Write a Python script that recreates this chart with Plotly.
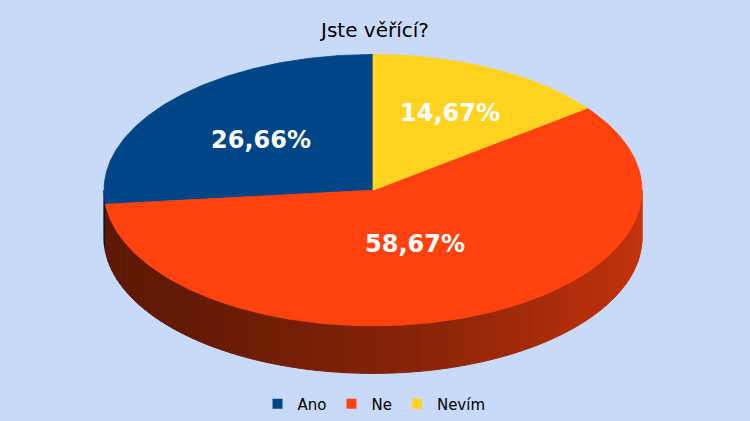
import numpy as np
import plotly.graph_objects as go

# ---- data ----
categories = ["Ano", "Ne", "Nevím"]
values = [26.66, 58.67, 14.67]
labels = ["26,66%", "58,67%", "14,67%"]
colors = ["#004586", "#FF420E", "#FFD320"]
title = "Jste věřící?"

# ---- geometry / style (pixels) ----
W, H = 750, 421
cx, cy = 373, 192
a, b = 269, 137
depth = 48
label_r = [0.56, 0.42, 0.64]
bg = "#C9DAF8"

def hex2rgb(h):
    h = h.lstrip("#")
    return tuple(int(h[i:i + 2], 16) for i in (0, 2, 4))

def shade(t):
    # lighting factor for the side wall, t in degrees (180 left .. 360 right)
    st = [180, 225, 270, 315, 360]
    sv = [0.36, 0.39, 0.50, 0.68, 0.80]
    return float(np.interp(t, st, sv))

def pt(t, dz=0.0):
    r = np.radians(t)
    return cx + a * np.cos(r), cy - b * np.sin(r) + dz

total = sum(values)
starts, ends = [], []
ang = 90.0
for v in values:
    span = v / total * 360.0
    starts.append(ang)
    ends.append(ang + span)
    ang += span

fig = go.Figure()

# side walls
for i, (s, e) in enumerate(zip(starts, ends)):
    base = hex2rgb(colors[i])
    for k in range(-1, 2):
        lo = max(s, 180 + 360 * k)
        hi = min(e, 360 + 360 * k)
        if hi <= lo:
            continue
        n = max(1, int((hi - lo) / 2))
        edges = np.linspace(lo, hi, n + 1)
        for j in range(n):
            t1, t2 = edges[j], edges[j + 1]
            ts = np.linspace(t1, t2, 4)
            top = [pt(t) for t in ts]
            bot = [pt(t, depth) for t in ts[::-1]]
            xs = [p[0] for p in top + bot]
            ys = [p[1] for p in top + bot]
            f = shade(((t1 + t2) / 2) - 360 * k)
            c = "rgb(%d,%d,%d)" % tuple(int(round(ch * f)) for ch in base)
            fig.add_trace(go.Scatter(x=xs + [xs[0]], y=ys + [ys[0]], mode="lines",
                                     fill="toself", fillcolor=c,
                                     line=dict(color=c, width=1),
                                     hoverinfo="skip", showlegend=False))

# top faces
for i, (s, e) in enumerate(zip(starts, ends)):
    ts = np.linspace(s, e, 200)
    xs = [cx] + [pt(t)[0] for t in ts] + [cx]
    ys = [cy] + [pt(t)[1] for t in ts] + [cy]
    fig.add_trace(go.Scatter(x=xs, y=ys, mode="lines", fill="toself",
                             fillcolor=colors[i], line=dict(color=colors[i], width=0.8),
                             hoverinfo="skip", showlegend=False))

# labels
for i, (s, e) in enumerate(zip(starts, ends)):
    m = np.radians((s + e) / 2)
    lx = cx + label_r[i] * a * np.cos(m)
    ly = cy - label_r[i] * b * np.sin(m)
    fig.add_annotation(x=lx, y=ly, text=labels[i], showarrow=False, yshift=-1,
                       font=dict(family="DejaVu Sans", size=24, color="white", weight="bold"),
                       xanchor="center", yanchor="middle")

# legend entries
for i, cat in enumerate(categories):
    fig.add_trace(go.Scatter(x=[None], y=[None], mode="markers", name=cat,
                             marker=dict(symbol="square", size=10, color=colors[i])))

fig.update_layout(
    width=W, height=H,
    margin=dict(l=0, r=0, t=0, b=0),
    paper_bgcolor=bg, plot_bgcolor=bg,
    xaxis=dict(range=[0, W], visible=False, fixedrange=True),
    yaxis=dict(range=[H, 0], visible=False, fixedrange=True),
    title=dict(text=title, x=375 / W, xanchor="center", y=1 - 30 / H, yanchor="middle",
               font=dict(family="DejaVu Sans", size=20, color="#000000")),
    legend=dict(orientation="h", x=374 / W, xanchor="center", y=1 - 408 / H, yanchor="middle",
                font=dict(family="DejaVu Sans", size=15, color="#000000"),
                bgcolor="rgba(0,0,0,0)", itemwidth=30, tracegroupgap=0),
    showlegend=True,
)

fig.write_html("out.html", config={"displayModeBar": False},
               post_script="document.body.style.margin='0';")
